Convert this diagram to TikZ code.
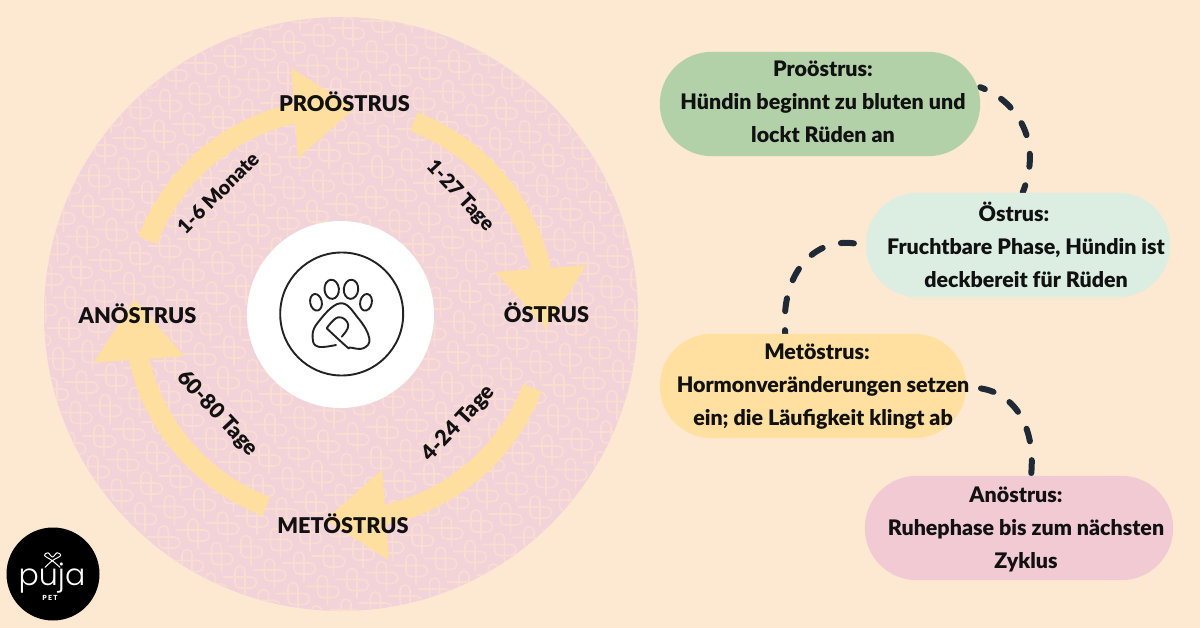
\documentclass[tikz,border=0pt]{standalone}
\usepackage{fontspec}
\setmainfont{Lato}[BoldFont={Lato Black}]
\newfontfamily\thinfont{Poppins Light}
\usetikzlibrary{arrows.meta,bending}
\definecolor{bgcol}{HTML}{FDE9D2}
\definecolor{pinkcol}{HTML}{F2D3DA}
\definecolor{knotcol}{HTML}{F9DDD1}
\definecolor{arrowcol}{HTML}{FEDF9F}
\definecolor{greencol}{HTML}{B3D1A9}
\definecolor{mintcol}{HTML}{DCEDE2}
\definecolor{yellowcol}{HTML}{FFE0A0}
\definecolor{rosecol}{HTML}{F2CAD4}
\definecolor{dashcol}{HTML}{1F2A36}
\definecolor{inkcol}{HTML}{111111}
\definecolor{pawcol}{HTML}{222222}
\newcommand{\knotpath}{(-12,11) -- (16,11) arc[start angle=90,end angle=-90,radius=5.5pt] -- (5,22) arc[start angle=-90,end angle=-180,radius=5pt] -- (0,5) arc[start angle=180,end angle=0,radius=5pt] -- (10,30)}
\tikzset{
  fatarrow/.style={draw=arrowcol,line width=20pt,-{Triangle[length=60pt,width=91pt,line width=0pt,fill=arrowcol]}},
  phasebox/.style={rectangle,rounded corners=52pt,minimum width=#1,minimum height=104pt,inner sep=0pt,draw=none},
  phasetext/.style={text=inkcol,align=center,font=\fontsize{21.4}{33}\selectfont\bfseries,inner sep=0pt},
  stagelabel/.style={text=inkcol,font=\fontsize{21.7}{26}\selectfont\bfseries,inner sep=0pt},
  durlabel/.style={text=inkcol,font=\fontsize{20}{25}\selectfont\bfseries,inner sep=0pt},
  dashconn/.style={draw=dashcol,line width=6pt,line cap=round,dash pattern=on 13pt off 19pt},
  pawline/.style={draw=pawcol,line width=1.9pt,line cap=round,line join=round},
}
\begin{document}
\begin{tikzpicture}[x=1pt,y=-1pt]
\useasboundingbox (0,0) rectangle (1200,628);
\fill[bgcol] (0,0) rectangle (1200,628);
% big patterned disc
\begin{scope}
  \clip (341,314) circle[radius=297pt];
  \fill[pinkcol] (0,0) rectangle (700,628);
  \foreach \i in {-11,...,24}{
    \foreach \j in {-16,...,17}{
      \draw[knotcol,line width=1.7pt,shift={(94+\i*29.5+\j*23.5,425-\i*7+\j*23.5)}] \knotpath;
    }
  }
\end{scope}
% centre
\node[circle,fill=white,minimum size=187pt,inner sep=0pt] (hub) at (340.5,314.5) {};
\node[circle,draw=pawcol,line width=1.9pt,minimum size=123pt,inner sep=0pt] (pawring) at (341.7,314) {};
\draw[pawline] (316,302.3) ellipse[x radius=5.8pt,y radius=8.4pt,rotate=12];
\draw[pawline] (331.7,289.3) ellipse[x radius=7.2pt,y radius=9.6pt,rotate=5];
\draw[pawline] (351,289.3) ellipse[x radius=7.2pt,y radius=9.6pt,rotate=-5];
\draw[pawline] (366,302.3) ellipse[x radius=5.8pt,y radius=8.4pt,rotate=-12];
\draw[pawline] plot[smooth,tension=0.7] coordinates {(336,345) (318.3,346.7) (312.7,338.3) (317.3,323.3) (340,303.3) (358.3,318.3) (369.3,338.3) (363.3,348.3) (350,347.5) (346.7,346.7) (326.7,328.3)};
\draw[pawline] plot[smooth,tension=0.8] coordinates {(326.7,328.3) (338.3,317.3) (348.3,325) (341.7,336.7)};
% cycle arrows
\coordinate (s1) at (413.8,121.7);
\coordinate (s2) at (532.3,387.8);
\coordinate (s3) at (266.2,506.3);
\coordinate (s4) at (147.7,240.2);
\draw[fatarrow] (s1) arc[start angle=69,end angle=-4,radius=206pt];
\draw[fatarrow] (s2) arc[start angle=-21,end angle=-94,radius=206pt];
\draw[fatarrow] (s3) arc[start angle=-111,end angle=-184,radius=206pt];
\draw[fatarrow] (s4) arc[start angle=-201,end angle=-274,radius=206pt];
% stage labels
\node[stagelabel] (lpro) at (344.5,101.5) {PROÖSTRUS};
\node[stagelabel] (lost) at (546.5,312.5) {ÖSTRUS};
\node[stagelabel] (lmet) at (343,523.5) {METÖSTRUS};
\node[stagelabel] (lano) at (137.5,313.5) {ANÖSTRUS};
\node[durlabel,rotate=-47] (d1) at (460,196) {1-27 Tage};
\node[durlabel,font=\fontsize{21.5}{25}\selectfont\bfseries,rotate=47] (d2) at (459,424) {4-24 Tage};
\node[durlabel,font=\fontsize{21.5}{25}\selectfont\bfseries,rotate=-47] (d3) at (217.5,413.5) {60-80 Tage};
\node[durlabel,rotate=45] (d4) at (218,193) {1-6 Monate};
% dashed connectors
\node[phasebox=320pt] (bpro) at (820,104) {};
\node[phasebox=304pt] (bost) at (1018,245) {};
\node[phasebox=306pt] (bmet) at (813,386) {};
\node[phasebox=308pt] (bano) at (1019,528) {};
\draw[dashconn,dash phase=8pt] (bpro.6) .. controls (1015,100) and (1044,140) .. (bost.85);
\draw[dashconn,shorten <=12pt] (bost.west) .. controls (815,238) and (780,272) .. (bmet.118);
\draw[dashconn,shorten <=15pt] (bmet.east) .. controls (1015,394) and (1036,427) .. (bano.77);
% boxes
\fill[greencol,rounded corners=52pt] (bpro.south west) rectangle (bpro.north east);
\fill[mintcol,rounded corners=52pt] (bost.south west) rectangle (bost.north east);
\fill[yellowcol,rounded corners=52pt] (bmet.south west) rectangle (bmet.north east);
\fill[rosecol,rounded corners=52pt] (bano.south west) rectangle (bano.north east);
\node[phasetext] (tpro) at (823,102) {Proöstrus:\\Hündin beginnt zu bluten und\\lockt Rüden an};
\node[phasetext] (tost) at (1026,245) {\hspace*{-24pt}Östrus:\\Fruchtbare Phase, Hündin ist\\deckbereit für Rüden};
\node[phasetext] (tmet) at (823,387) {\hspace*{-12pt}Metöstrus:\\Hormonveränderungen setzen\\ein; die Läufigkeit klingt ab};
\node[phasetext] (tano) at (1026,529) {\hspace*{-20pt}Anöstrus:\\Ruhephase bis zum nächsten\\Zyklus};
% logo
\fill[black] (53,574) circle[radius=46.5pt];
\draw[white,line width=1pt,line cap=round,line join=round] plot[smooth,tension=0.6] coordinates {(60,567.3) (52.3,560.7) (44.5,555.5) (48,552.8) (52.5,557) (57,552.8) (60.8,555.5) (52.3,560.7) (45,567.3)};
\node[text=white,font=\fontsize{30}{30}\thinfont,inner sep=0pt] (lpuja) at (52,578) {puja};
\node[text=white,font=\fontsize{7}{8}\selectfont\bfseries,inner sep=0pt] (lpet) at (50,598) {P\,E\,T};
\end{tikzpicture}
\end{document}
